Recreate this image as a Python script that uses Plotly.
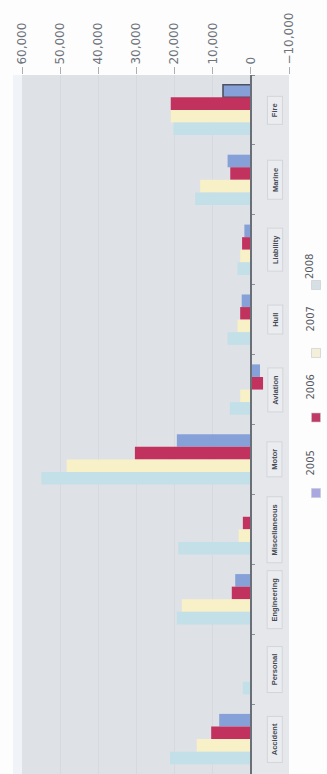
import plotly.graph_objects as go

# Gross premium by line of business, 2005-2008
categories = ["Fire", "Marine", "Liability", "Hull", "Aviation", "Motor",
              "Miscellaneous", "Engineering", "Personal", "Accident"]
years = ["2005", "2006", "2007", "2008"]
v2005 = [7300, 6100, 1700, 2400, -2400, 19400, None, 4100, None, 8300]
v2006 = [21000, 5400, 2300, 2800, -3200, 30400, 2100, 5000, None, 10400]
v2007 = [21000, 13300, 2800, 3500, 2800, 48300, 3200, 18100, None, 14200]
v2008 = [20300, 14600, 3500, 6100, 5500, 54900, 19000, 19400, 2100, 21200]
tick_values = [60000, 50000, 40000, 30000, 20000, 10000, 0, -10000]

series = [v2005, v2006, v2007, v2008]
bar_colors = ["#86a0d8", "#c2325f", "#f8f0c6", "#c3dfe7"]
legend_colors = ["#aaa8e0", "#c03a68", "#f3efd8", "#d6dfe4"]

W, H = 327, 774
L, R, T, B = 22, 38, 75, 0
PW, PH = W - L - R, H - T - B


def px(x):
    return (x - L) / PW


def py(y):
    return (H - B - y) / PH


fig = go.Figure()
for i, (name, vals) in enumerate(zip(years, series)):
    lw = [1.6 if (i == 0 and k == 0) else 0 for k in range(len(categories))]
    fig.add_trace(go.Bar(
        name=name, y=categories, x=vals, orientation="h",
        marker=dict(color=bar_colors[i], line=dict(width=lw, color="#4c5262")),
        showlegend=False,
    ))

shapes = [
    # lighter band right of the zero line
    dict(type="rect", xref="x", yref="paper", x0=0, x1=-10000, y0=0, y1=1,
         fillcolor="#e5e7ea", line_width=0, layer="below"),
    # pale strip along the left edge of the plot
    dict(type="rect", xref="paper", yref="paper", x0=px(13), x1=px(22),
         y0=0, y1=1, fillcolor="#f0f3f8", line_width=0, layer="below"),
]

# hand-drawn legend: rotated labels with colour swatches
leg_square_y = [493, 417.5, 353, 285]
leg_text_y = [463, 387, 319, 252]
annotations = []
for name, col, sy, ty in zip(years, legend_colors, leg_square_y, leg_text_y):
    shapes.append(dict(type="rect", xref="paper", yref="paper",
                       x0=px(311.5), x1=px(320.5), y0=py(sy + 4.5), y1=py(sy - 4.5),
                       fillcolor=col, line=dict(width=0.6, color="#c8c8d0")))
    annotations.append(dict(xref="paper", yref="paper", x=px(317), y=py(ty),
                            text=name, showarrow=False, textangle=-90,
                            font=dict(family="DejaVu Sans", size=10, color="#555a63")))

# category labels in small boxes beside the zero line
for c in categories:
    annotations.append(dict(xref="x", yref="y", x=-6300, y=c,
                            text="\u00a0\u00a0<b>" + c + "</b>\u00a0\u00a0",
                            showarrow=False, textangle=-90,
                            font=dict(family="Liberation Sans", size=7.5, color="#454a55"),
                            bgcolor="#eaecef", bordercolor="#d2d5da", borderwidth=1,
                            borderpad=2.5))

fig.update_layout(
    width=W, height=H,
    margin=dict(l=L, r=R, t=T, b=B, pad=0),
    paper_bgcolor="#fdfdfd",
    plot_bgcolor="#dee1e5",
    barmode="group", bargap=0.28, bargroupgap=0,
    shapes=shapes, annotations=annotations,
    xaxis=dict(
        side="top", range=[60000, -10000], tickvals=tick_values,
        tickformat=",", tickangle=-90,
        tickfont=dict(family="DejaVu Sans", size=12, color="#6e737b"),
        ticks="outside", ticklen=7, tickcolor="#aaaeb5",
        showgrid=True, gridcolor="#d6d9de", gridwidth=1,
        zeroline=False, showline=False, fixedrange=True,
    ),
    yaxis=dict(
        autorange="reversed", anchor="free", position=6 / 7, side="right",
        showline=True, linecolor="#6b6f78", linewidth=1.5,
        ticks="outside", ticklen=3, tickcolor="#8a8e96", tickson="boundaries",
        showticklabels=False, showgrid=False, zeroline=False,
    ),
)

fig.write_html("out.html")
